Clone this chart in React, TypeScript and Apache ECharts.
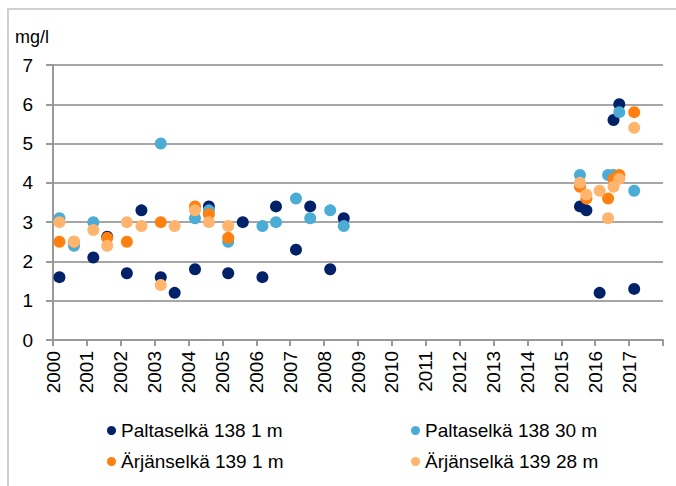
import React, { useEffect, useRef } from "react";
import * as echarts from "echarts";

const seriesNames = [
  "Paltaselkä 138 1 m",
  "Paltaselkä 138 30 m",
  "Ärjänselkä 139 1 m",
  "Ärjänselkä 139 28 m",
];
const seriesColors = ["#012169", "#4BACD6", "#FF7F0F", "#FFB56E"];

const yearLabels = [
  "2000", "2001", "2002", "2003", "2004", "2005", "2006", "2007", "2008",
  "2009", "2010", "2011", "2012", "2013", "2014", "2015", "2016", "2017",
];

// [decimal year, mg/l]
const paltaselka1m = [
  [2000.19, 1.6], [2001.19, 2.1], [2001.6, 2.63], [2002.18, 1.7], [2002.61, 3.3],
  [2003.18, 1.6], [2003.59, 1.2], [2004.19, 1.8], [2004.6, 3.4], [2005.17, 1.7],
  [2005.6, 3.0], [2006.18, 1.6], [2006.58, 3.4], [2007.17, 2.3], [2007.59, 3.4],
  [2008.18, 1.8], [2008.58, 3.1],
  [2015.55, 3.4], [2015.74, 3.3], [2016.13, 1.2], [2016.54, 5.6], [2016.71, 6.0],
  [2017.15, 1.3],
];
const paltaselka30m = [
  [2000.19, 3.1], [2000.62, 2.4], [2001.19, 3.0], [2003.18, 5.0], [2004.19, 3.1],
  [2004.6, 3.3], [2005.17, 2.5], [2006.18, 2.9], [2006.58, 3.0], [2007.17, 3.6],
  [2007.59, 3.1], [2008.18, 3.3], [2008.58, 2.9],
  [2015.55, 4.2], [2016.38, 4.2], [2016.54, 4.2], [2016.71, 5.8], [2017.15, 3.8],
];
const arjanselka1m = [
  [2000.19, 2.5], [2000.62, 2.5], [2001.6, 2.6], [2002.18, 2.5], [2003.18, 3.0],
  [2004.19, 3.4], [2004.6, 3.2], [2005.17, 2.6],
  [2015.55, 3.9], [2015.74, 3.6], [2016.38, 3.6], [2016.54, 4.1], [2016.71, 4.2],
  [2017.15, 5.8],
];
const arjanselka28m = [
  [2000.19, 3.0], [2000.62, 2.5], [2001.19, 2.8], [2001.6, 2.4], [2002.18, 3.0],
  [2002.61, 2.9], [2003.18, 1.4], [2003.59, 2.9], [2004.19, 3.3], [2004.6, 3.0],
  [2005.17, 2.9],
  [2015.55, 4.0], [2015.74, 3.7], [2016.13, 3.8], [2016.38, 3.1], [2016.54, 3.9],
  [2016.71, 4.1], [2017.15, 5.4],
];

const allData = [paltaselka1m, paltaselka30m, arjanselka1m, arjanselka28m];

const FONT = "'Liberation Sans', Arial, sans-serif";

export default function App() {
  const ref = useRef<HTMLDivElement>(null);

  useEffect(() => {
    if (!ref.current) return;
    const chart = echarts.init(ref.current, undefined, { renderer: "svg" });

    const legendPos = [
      { left: 107, top: 421 },
      { left: 411, top: 421 },
      { left: 107, top: 452 },
      { left: 411, top: 452 },
    ];

    chart.setOption({
      animation: false,
      backgroundColor: "#ffffff",
      textStyle: { fontFamily: FONT },
      grid: { left: 53, right: 13, top: 65, bottom: 146, containLabel: false },
      graphic: [
        {
          type: "rect",
          shape: { x: 8, y: 9, width: 700, height: 500 },
          style: { fill: "none", stroke: "#d0d0d0", lineWidth: 2 },
          silent: true,
        },
        {
          type: "text",
          left: 15,
          top: 28,
          style: { text: "mg/l", fontSize: 18, fontFamily: FONT, fill: "#000" },
        },
      ],
      legend: seriesNames.map((n, i) => ({
        data: [{ name: n, icon: "circle" }],
        left: legendPos[i].left,
        top: legendPos[i].top,
        itemWidth: 9,
        itemHeight: 9,
        padding: 0,
        textStyle: { fontSize: 19, fontFamily: FONT, color: "#000" },
        selectedMode: false,
      })),
      xAxis: {
        type: "value",
        min: 2000,
        max: 2018,
        interval: 1,
        axisLine: { lineStyle: { color: "#999", width: 2 } },
        axisTick: { show: true, length: 6, lineStyle: { color: "#999", width: 2 } },
        splitLine: { show: false },
        axisLabel: {
          rotate: 90,
          margin: 11,
          fontSize: 19,
          color: "#000",
          fontFamily: FONT,
          formatter: (v: number) => {
            const idx = Math.round(v) - 2000;
            return yearLabels[idx] ?? "";
          },
        },
      },
      yAxis: {
        type: "value",
        min: 0,
        max: 7,
        interval: 1,
        axisLine: { show: true, lineStyle: { color: "#999", width: 2 } },
        axisTick: { show: true, length: 7, lineStyle: { color: "#999", width: 2 } },
        splitLine: { show: true, lineStyle: { color: "#a6a6a6", width: 2 } },
        axisLabel: { margin: 20, fontSize: 19, color: "#000", fontFamily: FONT },
      },
      series: seriesNames.map((n, i) => ({
        name: n,
        type: "scatter",
        symbol: "circle",
        symbolSize: 12,
        itemStyle: { color: seriesColors[i], opacity: 1 },
        data: allData[i],
        z: 2 + i,
      })),
    });

    return () => chart.dispose();
  }, []);

  return (
    <div
      ref={ref}
      style={{ position: "fixed", left: 0, top: 0, width: 676, height: 486 }}
    />
  );
}
